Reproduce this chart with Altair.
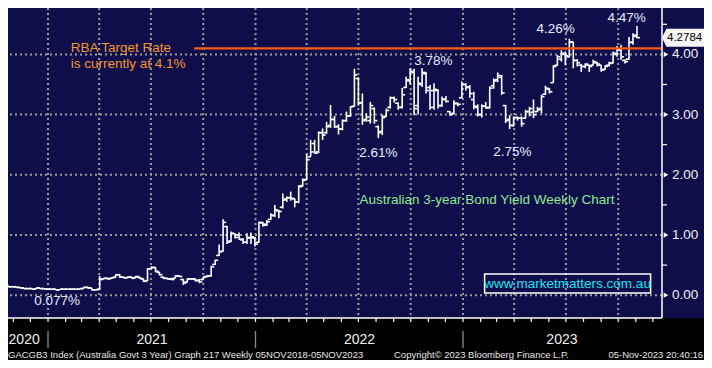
import altair as alt
import pandas as pd

# ---------------- data ----------------
weeks = pd.date_range("2020-10-09", periods=161, freq="7D").strftime("%Y-%m-%d").tolist()

opens = [0.19,0.18,0.16,0.14,0.14,0.13,0.12,0.11,0.11,0.10,
         0.12,0.11,0.10,0.10,0.10,0.09,0.10,0.10,0.10,0.10,
         0.10,0.11,0.13,0.12,0.09,0.10,0.27,0.28,0.28,0.30,
         0.34,0.30,0.29,0.30,0.29,0.30,0.27,0.24,0.44,0.46,
         0.38,0.30,0.28,0.27,0.28,0.32,0.26,0.22,0.27,0.27,
         0.25,0.26,0.31,0.32,0.51,0.66,0.73,1.14,0.90,1.02,
         1.00,0.92,0.88,0.96,0.95,0.88,1.20,1.18,1.26,1.32,
         1.40,1.46,1.60,1.62,1.60,1.55,1.82,1.92,2.30,2.52,
         2.38,2.70,2.70,2.82,2.92,2.80,2.76,2.90,2.98,3.14,
         3.60,3.20,2.92,2.90,3.10,2.80,2.72,2.97,3.12,3.28,
         3.19,3.12,3.45,3.56,3.70,3.15,3.50,3.68,3.45,3.40,
         3.40,3.15,3.26,3.05,3.02,3.18,3.28,3.50,3.46,3.25,
         3.12,3.00,3.14,3.12,3.48,3.58,3.62,3.15,2.92,2.82,
         2.95,2.94,2.94,3.05,3.04,3.05,3.10,3.34,3.42,3.53,
         3.82,3.92,4.00,3.96,4.21,3.90,3.82,3.80,3.82,3.82,
         3.86,3.82,3.75,3.82,3.86,4.00,4.07,3.90,3.92,4.20,
         4.30]
highs = [0.20,0.18,0.16,0.15,0.14,0.13,0.12,0.12,0.11,0.12,
         0.12,0.11,0.11,0.10,0.10,0.10,0.10,0.10,0.11,0.10,
         0.11,0.14,0.14,0.12,0.10,0.32,0.29,0.29,0.30,0.35,
         0.35,0.31,0.31,0.31,0.32,0.31,0.28,0.45,0.48,0.47,
         0.39,0.31,0.29,0.29,0.33,0.33,0.27,0.28,0.28,0.28,
         0.27,0.31,0.33,0.49,0.59,0.84,1.26,1.15,1.06,1.03,
         1.04,0.95,1.03,1.04,0.97,1.22,1.22,1.25,1.36,1.50,
         1.42,1.69,1.64,1.72,1.61,1.83,1.94,2.35,2.58,2.58,
         2.72,2.77,2.88,3.16,2.98,2.84,2.92,3.05,3.14,3.76,
         3.62,3.35,3.02,3.21,3.12,2.82,3.00,3.10,3.30,3.30,
         3.20,3.44,3.63,3.77,3.76,3.63,3.77,3.71,3.49,3.52,
         3.42,3.30,3.31,3.06,3.24,3.20,3.55,3.52,3.49,3.38,
         3.17,3.17,3.21,3.47,3.60,3.70,3.66,3.16,2.99,2.97,
         2.97,2.97,3.08,3.13,3.25,3.13,3.33,3.48,3.44,3.82,
         3.99,4.07,4.05,4.26,4.21,3.92,3.84,3.85,3.83,3.91,
         3.88,3.83,3.82,3.88,4.05,4.14,4.16,3.92,4.29,4.35,
         4.47]
lows = [0.17,0.15,0.14,0.13,0.12,0.11,0.10,0.10,0.10,0.10,
        0.10,0.10,0.09,0.09,0.077,0.09,0.09,0.09,0.09,0.09,
        0.10,0.11,0.11,0.08,0.08,0.09,0.26,0.26,0.27,0.29,
        0.29,0.28,0.28,0.28,0.28,0.27,0.22,0.23,0.43,0.38,
        0.33,0.27,0.26,0.25,0.28,0.30,0.17,0.21,0.26,0.23,
        0.20,0.25,0.30,0.31,0.50,0.65,0.72,0.85,0.88,0.94,
        0.92,0.85,0.85,0.85,0.81,0.87,1.14,1.15,1.25,1.30,
        1.28,1.44,1.55,1.57,1.46,1.53,1.80,1.91,2.30,2.35,
        2.36,2.58,2.68,2.78,2.78,2.67,2.74,2.88,2.96,3.13,
        3.15,2.83,2.88,2.85,2.85,2.61,2.66,2.96,3.10,3.20,
        3.08,3.10,3.44,3.50,2.99,3.00,3.46,3.35,3.08,3.08,
        3.10,3.13,3.20,2.98,3.00,3.14,3.27,3.40,3.28,3.09,
        2.97,2.95,3.10,3.10,3.43,3.54,3.33,2.86,2.76,2.80,
        2.90,2.80,2.93,2.97,2.94,3.04,3.02,3.33,3.35,3.53,
        3.81,3.88,3.82,3.95,3.77,3.80,3.71,3.77,3.71,3.82,
        3.80,3.71,3.74,3.80,3.85,3.96,3.91,3.85,3.91,4.16,
        4.27]
closes = [0.18,0.16,0.14,0.14,0.13,0.12,0.11,0.11,0.10,0.12,
          0.11,0.10,0.10,0.10,0.09,0.10,0.10,0.10,0.10,0.10,
          0.11,0.13,0.12,0.09,0.09,0.26,0.28,0.27,0.29,0.34,
          0.30,0.29,0.30,0.28,0.31,0.28,0.23,0.44,0.46,0.40,
          0.34,0.28,0.27,0.26,0.32,0.31,0.20,0.27,0.27,0.24,
          0.22,0.30,0.32,0.47,0.58,0.72,1.21,0.88,1.03,0.96,
          0.93,0.88,0.95,0.97,0.85,1.21,1.16,1.22,1.33,1.42,
          1.39,1.58,1.62,1.61,1.55,1.80,1.91,2.25,2.38,2.36,
          2.70,2.66,2.80,2.92,2.80,2.76,2.90,2.98,3.13,3.66,
          3.19,2.90,2.96,3.15,2.90,2.70,2.95,3.07,3.28,3.25,
          3.12,3.33,3.58,3.72,3.10,3.52,3.70,3.40,3.12,3.42,
          3.15,3.25,3.22,3.00,3.19,3.17,3.50,3.45,3.35,3.14,
          3.00,3.14,3.11,3.44,3.56,3.65,3.36,2.90,2.82,2.95,
          2.94,2.85,3.05,3.10,3.00,3.08,3.30,3.44,3.38,3.80,
          3.96,4.02,3.98,4.20,3.90,3.86,3.80,3.84,3.80,3.88,
          3.84,3.74,3.80,3.85,4.02,4.08,3.96,3.88,4.20,4.32,
          4.2784]

y_ticks = [0, 1, 2, 3, 4]
y_tick_labels = ["0.00", "1.00", "2.00", "3.00", "4.00"]
y_minor = [0.5, 1.5, 2.5, 3.5, 4.5]
quarter_starts = pd.date_range("2021-01-01", "2023-10-01", freq="QS").strftime("%Y-%m-%d").tolist()
month_starts = pd.date_range("2020-11-01", "2023-12-01", freq="MS").strftime("%Y-%m-%d").tolist()
year_starts = ["2021-01-01", "2022-01-01", "2023-01-01"]
year_names = ["2020", "2021", "2022", "2023"]
year_label_dates = ["2020-11-20", "2021-07-03", "2022-07-03", "2023-06-24"]

rba_rate = 4.1
rba_from = "2021-09-15"
rba_to = "2023-12-20"
last_value = 4.2784

pct_texts = ["0.077%", "2.61%", "3.78%", "2.75%", "4.26%", "4.47%"]
pct_dates = ["2021-01-17", "2022-08-05", "2022-11-10", "2023-03-29", "2023-06-13", "2023-10-16"]
pct_values = [-0.096, 2.362, 3.89, 2.379, 4.414, 4.605]

rba_texts = ["RBA Target Rate", "is currently at 4.1%"]
rba_text_dates = ["2021-02-10", "2021-02-10"]
rba_text_values = [4.106, 3.841]

title_text = "Australian 3-year Bond Yield Weekly Chart"
title_date = "2022-07-03"
title_value = 1.581

site_text = "www.marketmatters.com.au"
site_center = "2023-07-04"
site_value = 0.19
site_box = ["2023-02-08", "2023-11-27", 0.352, 0.037]

footer_left = "GACGB3 Index (Australia Govt 3 Year) Graph 217  Weekly 05NOV2018-05NOV2023"
footer_mid = "Copyright\u00a9 2023 Bloomberg Finance L.P."
footer_right = "05-Nov-2023 20:40:16"

# ---------------- styling ----------------
NAVY = "#0F0E4A"
FONT = "Liberation Sans"
W, H = 654, 310

X = alt.Scale(type="utc",
              domain=[alt.DateTime(year=2020, month=10, date=22, hours=15, utc=True),
                      alt.DateTime(year=2023, month=12, date=17, hours=1, utc=True)])
Y = alt.Scale(domain=[-0.379, 4.771], zero=False, nice=False)


def xt(f):
    return alt.X(f"{f}:T", scale=X, axis=None)


def yq(f):
    return alt.Y(f"{f}:Q", scale=Y, axis=None)


bars = pd.DataFrame({"date": weeks, "open": opens, "high": highs, "low": lows, "close": closes})
one = pd.DataFrame({"k": [0]})

grid_h = alt.Chart(pd.DataFrame({"v": y_ticks})).mark_rule(
    color="#9A9A9A", strokeWidth=2, strokeDash=[2, 3]).encode(y=yq("v"))
grid_v = alt.Chart(pd.DataFrame({"d": quarter_starts})).mark_rule(
    color="#9A9A9A", strokeWidth=2, strokeDash=[2, 3]).encode(x=xt("d"))

hl = alt.Chart(bars).mark_rule(color="white", strokeWidth=1.6, clip=True).encode(
    x=xt("date"), y=yq("low"), y2="high")
op = alt.Chart(bars).mark_rule(color="white", strokeWidth=1.6, clip=True,
                               xOffset=-3, x2Offset=0).encode(
    x=xt("date"), x2=alt.X2("date"), y=yq("open"))
cl = alt.Chart(bars).mark_rule(color="white", strokeWidth=1.6, clip=True,
                               xOffset=0, x2Offset=3).encode(
    x=xt("date"), x2=alt.X2("date"), y=yq("close"))

rba = alt.Chart(pd.DataFrame({"s": [rba_from], "e": [rba_to], "v": [rba_rate]})).mark_rule(
    color="#FF5A14", strokeWidth=2.2, clip=True).encode(x=xt("s"), x2="e", y=yq("v"))

right_panel = alt.Chart(one).mark_rect(color=NAVY).encode(
    x=alt.value(W), x2=alt.value(696), y=alt.value(0), y2=alt.value(H))
right_border = alt.Chart(one).mark_rule(color="white", strokeWidth=1.5).encode(
    x=alt.value(W), y=alt.value(0), y2=alt.value(H))
bottom_border = alt.Chart(one).mark_rule(color="white", strokeWidth=1.5).encode(
    x=alt.value(0), x2=alt.value(W), y=alt.value(H))

month_ticks = alt.Chart(pd.DataFrame({"d": month_starts})).mark_rule(
    color="white", strokeWidth=1.2).encode(x=xt("d"), y=alt.value(H), y2=alt.value(H + 4))
year_seps = alt.Chart(pd.DataFrame({"d": year_starts})).mark_rule(
    color="#8A8A8A", strokeWidth=1.3).encode(x=xt("d"), y=alt.value(H + 13), y2=alt.value(H + 30))
year_text = alt.Chart(pd.DataFrame({"d": year_label_dates, "t": year_names})).mark_text(
    color="#EEEEEE", fontSize=14, font=FONT, baseline="middle").encode(
    x=xt("d"), y=alt.value(H + 22), text="t:N")

ylab = alt.Chart(pd.DataFrame({"v": y_ticks, "t": y_tick_labels})).mark_text(
    color="#EEEEEE", fontSize=13.5, font=FONT, align="left", baseline="middle").encode(
    x=alt.value(W + 10), y=yq("v"), text="t:N")
ytri = alt.Chart(pd.DataFrame({"v": y_ticks})).mark_point(
    shape="triangle-right", filled=True, color="white", size=28, opacity=1).encode(
    x=alt.value(W + 4), y=yq("v"))
yminor = alt.Chart(pd.DataFrame({"v": y_minor})).mark_rule(
    color="white", strokeWidth=1.2).encode(x=alt.value(W), x2=alt.value(W + 5), y=yq("v"))

callout = alt.Chart(pd.DataFrame({"v": [last_value]})).mark_point(
    shape="M -1 0 L -0.8 -0.41 L 1 -0.41 L 1 0.41 L -0.8 0.41 Z",
    filled=True, color="#F5F5F5", size=1936, opacity=1).encode(
    x=alt.value(W + 22), y=yq("v"))
callout_txt = alt.Chart(pd.DataFrame({"v": [last_value], "t": [f"{last_value:.4f}"]})).mark_text(
    color="black", fontSize=11.5, font=FONT, align="left", baseline="middle").encode(
    x=alt.value(W + 5), y=yq("v"), text="t:N")

pct = alt.Chart(pd.DataFrame({"d": pct_dates, "v": pct_values, "t": pct_texts})).mark_text(
    color="#E2ECFF", fontSize=13.5, font=FONT, baseline="middle").encode(
    x=xt("d"), y=yq("v"), text="t:N")
rba_txt = alt.Chart(pd.DataFrame({"d": rba_text_dates, "v": rba_text_values, "t": rba_texts})).mark_text(
    color="#F5962A", fontSize=13.5, font=FONT, align="left", baseline="middle").encode(
    x=xt("d"), y=yq("v"), text="t:N")
title_txt = alt.Chart(pd.DataFrame({"d": [title_date], "v": [title_value], "t": [title_text]})).mark_text(
    color="#8EE88E", fontSize=13.5, font=FONT, align="left", baseline="middle").encode(
    x=xt("d"), y=yq("v"), text="t:N")
site_rect = alt.Chart(pd.DataFrame({"a": [site_box[0]], "b": [site_box[1]],
                                    "c": [site_box[2]], "e": [site_box[3]]})).mark_rect(
    fillOpacity=0, stroke="white", strokeWidth=1.5).encode(x=xt("a"), x2="b", y=yq("c"), y2="e")
site_txt = alt.Chart(pd.DataFrame({"d": [site_center], "v": [site_value], "t": [site_text]})).mark_text(
    color="#1CE3EE", fontSize=13.5, font=FONT, baseline="middle").encode(
    x=xt("d"), y=yq("v"), text="t:N")

foot_l = alt.Chart(pd.DataFrame({"t": [footer_left]})).mark_text(
    color="#E6E6E6", fontSize=9.5, font=FONT, align="left", baseline="middle").encode(
    x=alt.value(0), y=alt.value(H + 37), text="t:N")
foot_m = alt.Chart(pd.DataFrame({"t": [footer_mid]})).mark_text(
    color="#E6E6E6", fontSize=9.5, font=FONT, align="left", baseline="middle").encode(
    x=alt.value(386), y=alt.value(H + 37), text="t:N")
foot_r = alt.Chart(pd.DataFrame({"t": [footer_right]})).mark_text(
    color="#E6E6E6", fontSize=9.5, font=FONT, align="right", baseline="middle").encode(
    x=alt.value(695), y=alt.value(H + 37), text="t:N")

chart = alt.layer(
    grid_h, grid_v, hl, op, cl, rba,
    right_panel, right_border, bottom_border, month_ticks, year_seps, year_text,
    yminor, ytri, ylab, callout, callout_txt,
    pct, rba_txt, title_txt, site_rect, site_txt,
    foot_l, foot_m, foot_r,
).properties(
    width=W, height=H,
    autosize=alt.AutoSizeParams(type="none"),
    padding={"left": 0, "top": 0, "right": 42, "bottom": 42},
).configure(background="#000000").configure_view(fill=NAVY, strokeWidth=0)

chart.save("out.html", embed_options={"renderer": "svg", "actions": False})
